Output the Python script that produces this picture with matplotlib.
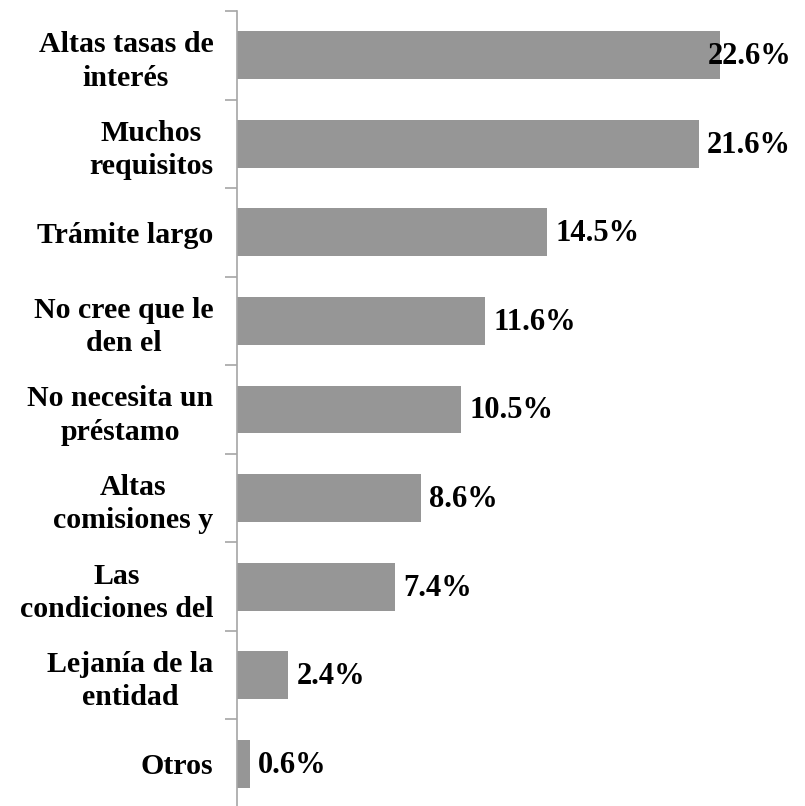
import matplotlib
matplotlib.use("Agg")
import matplotlib.pyplot as plt
import numpy as np

categories = [
    "Altas tasas de\ninterés",
    "Muchos\nrequisitos",
    "Trámite largo",
    "No cree que le\nden el",
    "No necesita un\npréstamo",
    "Altas\ncomisiones y",
    "Las\ncondiciones del",
    "Lejanía de la\nentidad",
    "Otros",
]
values = [22.6, 21.6, 14.5, 11.6, 10.5, 8.6, 7.4, 2.4, 0.6]
value_labels = ["22.6%", "21.6%", "14.5%", "11.6%", "10.5%", "8.6%", "7.4%", "2.4%", "0.6%"]

plt.rcParams["font.family"] = ["Liberation Serif", "DejaVu Serif"]
plt.rcParams["font.weight"] = "bold"

W, H = 805, 806
fig = plt.figure(figsize=(W / 100, H / 100), dpi=100)
left, right, top, bottom = 237, 800, 11, 808
ax = fig.add_axes([left / W, 1 - bottom / H, (right - left) / W, (bottom - top) / H])

n = len(categories)
y = np.arange(n)
ax.barh(y, values, height=0.54, color="#969696", zorder=2)
ax.set_ylim(n - 0.5, -0.5)
ax.set_xlim(0, 26.35)

ax.set_yticks(y)
ax.set_yticklabels(categories, fontsize=21.5, fontweight="bold",
                   multialignment="center", linespacing=1.3)
ax.tick_params(axis="y", which="major", length=0, pad=17)
ax.set_yticks(np.arange(-0.5, n, 1.0), minor=True)
ax.tick_params(axis="y", which="minor", length=9, width=1.2, color="#a6a6a6", direction="out")
ax.set_xticks([])

for s in ["top", "right", "bottom"]:
    ax.spines[s].set_visible(False)
ax.spines["left"].set_color("#a6a6a6")
ax.spines["left"].set_linewidth(1.2)

xmax = ax.get_xlim()[1]
for yi, v, lab in zip(y, values, value_labels):
    if v > 0.85 * xmax:
        ax.annotate(lab, xy=(xmax, yi), xytext=(-6, -1), textcoords="offset points",
                    ha="right", va="center", fontsize=22, fontweight="bold", zorder=3)
    else:
        ax.annotate(lab, xy=(v, yi), xytext=(6, -1), textcoords="offset points",
                    ha="left", va="center", fontsize=22, fontweight="bold", zorder=3)

fig.savefig("out.png", dpi=100)
